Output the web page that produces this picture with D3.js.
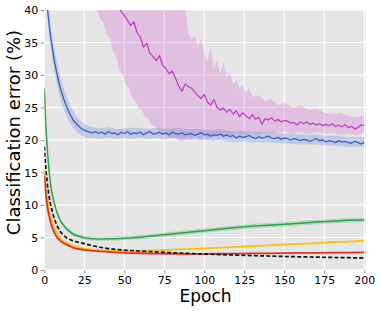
<!DOCTYPE html>
<html>
<head>
<meta charset="utf-8">
<script src="https://cdn.jsdelivr.net/npm/d3@7"></script>
<style>
  body { margin: 0; background: #fff; }
  text { font-family: "DejaVu Sans", sans-serif; }
</style>
</head>
<body>
<div id="chart"></div>
<script>
'use strict';

// ---- data ----
var xTicks = [0, 25, 50, 75, 100, 125, 150, 175, 200];
var yTicks = [0, 5, 10, 15, 20, 25, 30, 35, 40];

var blueEpochs = [0, 1, 2, 3, 4, 5, 6, 7, 8, 9, 10, 12, 14, 16, 18, 20, 22, 24, 26, 28,
  30, 32, 34, 36, 38, 40, 42, 44, 46, 48, 50, 52, 54, 56, 58, 60, 62, 64, 66, 68, 70, 72, 74, 76, 78,
  80, 82, 84, 86, 88, 90, 92, 94, 96, 98, 100, 102, 104, 106, 108, 110, 112, 114, 116, 118, 120,
  122, 124, 126, 128, 130, 132, 134, 136, 138, 140, 142, 144, 146, 148, 150, 152, 154, 156, 158,
  160, 162, 164, 166, 168, 170, 172, 174, 176, 178, 180, 182, 184, 186, 188, 190, 192, 194, 196, 198, 200];
var blueMean = [47, 43.5, 40.2, 37.8, 35.8, 34.2, 32.6, 31.3, 30.1, 29.0, 28.0, 26.4, 25.1, 24.0, 23.1, 22.5, 22.0, 21.6, 21.4, 21.2,
  21.1, 21.3, 21.0, 21.2, 20.9, 21.3, 21.0, 21.1, 20.8, 21.2, 21.0, 21.3, 20.9, 21.1, 21.0, 21.2, 20.8, 21.1, 21.3, 20.9, 21.0, 21.2, 20.9, 21.1, 20.8,
  21.2, 21.0, 20.9, 21.1, 20.8, 20.9, 21.0, 20.7, 20.9, 21.1, 20.8, 20.9, 20.6, 20.8, 20.7, 20.9, 20.6, 20.8, 20.5, 20.7, 20.3,
  20.6, 20.4, 20.5, 20.7, 20.4, 20.2, 20.5, 20.3, 20.4, 20.6, 20.3, 20.2, 20.4, 20.1, 20.3, 20.2, 20.0, 20.2, 20.1,
  19.9, 20.1, 20.0, 19.8, 20.0, 20.2, 19.9, 20.0, 19.7, 19.9, 19.8, 19.6, 19.9, 19.7, 19.8, 19.6, 19.5, 19.8, 19.6, 19.4, 19.6];
var blueBandEpochs = [0, 2, 4, 6, 8, 10, 12, 14, 16, 18, 20, 22, 24, 26, 28, 30, 35, 40, 45, 50, 55, 60, 65, 70, 75, 80, 85, 90,
  95, 100, 105, 110, 115, 120, 125, 130, 135, 140, 145, 150, 155, 160, 165, 170, 175, 180, 185, 190, 195, 200];
var blueLower = [45.2, 38.5, 34.1, 30.9, 28.4, 26.4, 24.8, 23.6, 22.6, 21.8, 21.3, 20.9, 20.6, 20.4, 20.3, 20.3, 20.2, 20.4, 20.2, 20.3, 20.2, 20.4, 20.2, 20.3, 20.1, 20.3, 20.2, 20.0,
  20.1, 20.0, 19.9, 20.0, 19.7, 19.7, 19.8, 19.6, 19.7, 19.6, 19.5, 19.5, 19.4, 19.3, 19.3, 19.3, 19.1, 19.1, 19.1, 18.9, 19.0, 18.9];
var blueUpper = [48.8, 41.9, 37.5, 34.3, 31.8, 29.6, 28.0, 26.6, 25.4, 24.4, 23.7, 23.1, 22.6, 22.4, 22.1, 22.0, 21.8, 22.0, 21.7, 21.8, 21.9, 21.9, 21.7, 21.9, 21.7, 21.8, 21.8, 21.6,
  21.7, 21.6, 21.5, 21.7, 21.4, 21.3, 21.4, 21.2, 21.3, 21.2, 21.1, 21.0, 21.0, 20.9, 20.8, 20.9, 20.6, 20.7, 20.6, 20.4, 20.5, 20.4];

var magentaEpochs = [40, 42, 44, 46, 48, 50, 52, 54, 56, 58, 60, 62, 64, 66, 68, 70, 72, 74, 76, 78,
  80, 82, 84, 86, 88, 90, 92, 94, 96, 98, 100, 102, 104, 106, 108, 110, 112, 114, 116, 118, 120,
  122, 124, 126, 128, 130, 132, 134, 136, 138, 140, 142, 144, 146, 148, 150, 152, 154, 156, 158,
  160, 162, 164, 166, 168, 170, 172, 174, 176, 178, 180, 182, 184, 186, 188, 190, 192, 194, 196, 198, 200];
var magentaMean = [43.5, 42.4, 41.5, 40.5, 39.8, 39.2, 38.4, 37.6, 38.2, 36.5, 35.8, 34.3, 34.9, 33.4, 32.8, 32.2, 33.0, 31.5, 31.0, 30.2,
  30.6, 29.5, 28.3, 27.5, 28.6, 28.2, 28.0, 27.4, 26.8, 26.4, 27.0, 25.8, 25.4, 26.2, 25.0, 24.6, 24.9, 24.3, 24.7, 24.0, 24.5,
  23.6, 24.2, 23.7, 23.3, 23.9, 23.2, 23.5, 22.4, 23.3, 23.1, 23.4, 22.9, 23.2, 22.8, 23.0, 22.9, 22.6, 22.7, 22.3,
  22.8, 22.5, 22.8, 22.4, 22.6, 22.3, 22.5, 22.2, 22.4, 22.2, 22.5, 22.1, 22.3, 22.0, 22.4, 21.9, 22.1, 21.7, 21.9, 22.3, 22.2];
var magentaBandEpochs = [30, 33, 35, 37, 39, 41, 43, 45, 47, 49, 51, 53, 55, 57, 59, 61, 63, 65, 67, 69, 72, 75, 78, 82, 86,
  88, 90, 92, 94, 96, 98, 100, 102, 104, 106, 108, 110, 112, 114, 116, 118, 120, 122, 124, 126, 128, 130,
  134, 138, 142, 146, 150, 155, 160, 165, 170, 175, 180, 185, 190, 195, 200];
var magentaLower = [42, 40.0, 38.6, 38.0, 36.2, 35.8, 33.6, 32.8, 30.6, 30.2, 28.4, 27.9, 26.3, 26.0, 24.9, 24.6, 23.5, 23.4, 22.2, 22.1, 21.4, 21.1, 20.4, 20.3, 19.7,
  20.2, 20.5, 20.0, 20.8, 20.3, 19.9, 20.6, 20.1, 20.7, 20.3, 20.5, 20.9, 20.4, 20.8, 20.5, 20.9, 21.0, 20.6, 20.9, 20.7, 21.0, 21.1,
  20.8, 21.2, 21.0, 21.1, 21.3, 21.0, 21.2, 20.9, 21.2, 21.0, 21.1, 20.8, 21.0, 20.7, 21.1];
var magentaUpper = [45, 45, 45, 45, 45, 45, 45, 45, 45, 45, 45, 45, 45, 45, 45, 45, 45, 45, 45, 45, 45, 45, 45, 45, 45,
  40.5, 36.5, 35.4, 36.2, 34.5, 35.6, 33.4, 32.2, 34.3, 31.0, 32.4, 30.1, 32.0, 29.6, 30.3, 28.5, 29.2, 27.8, 28.4, 27.3, 28.0, 26.6,
  26.9, 26.0, 26.3, 25.4, 25.7, 25.0, 25.3, 24.6, 24.8, 24.2, 24.0, 24.2, 23.7, 23.5, 23.8];

var smoothEpochs = [0, 1, 2, 3, 4, 5, 6, 7, 8, 10, 12, 14, 16, 18, 20, 25, 30, 35, 40, 45, 50, 55, 60, 70, 80, 90,
  100, 110, 120, 130, 140, 150, 160, 170, 180, 190, 200];
var greenMean = [28.0, 22.0, 18.2, 15.2, 13.0, 11.6, 10.5, 9.6, 8.8, 7.6, 6.9, 6.3, 5.9, 5.5, 5.3, 4.95, 4.8, 4.75, 4.8, 4.8, 4.9, 4.95, 5.05, 5.3, 5.55, 5.8,
  6.05, 6.3, 6.55, 6.75, 6.9, 7.05, 7.2, 7.4, 7.5, 7.65, 7.7];
var greenStd = [0.6, 0.5, 0.45, 0.4, 0.35, 0.3, 0.3, 0.3, 0.3, 0.3, 0.3, 0.3, 0.3, 0.3, 0.3, 0.3, 0.3, 0.3, 0.3, 0.3, 0.3, 0.3, 0.32, 0.32, 0.32, 0.35,
  0.35, 0.35, 0.35, 0.35, 0.35, 0.35, 0.35, 0.35, 0.35, 0.35, 0.35];
var yellowMean = [15.5, 12.5, 10.6, 9.2, 8.1, 7.3, 6.6, 6.0, 5.6, 4.9, 4.45, 4.15, 3.9, 3.7, 3.55, 3.3, 3.15, 3.05, 3.0, 2.95, 2.93, 2.93, 2.95, 3.02, 3.12, 3.22,
  3.33, 3.45, 3.57, 3.68, 3.8, 3.92, 4.03, 4.15, 4.27, 4.38, 4.5];
var redMean = [14.5, 11.5, 9.5, 8.3, 7.3, 6.5, 5.9, 5.4, 5.0, 4.5, 4.15, 3.9, 3.65, 3.45, 3.3, 3.1, 2.95, 2.85, 2.78, 2.7, 2.65, 2.61, 2.58, 2.53, 2.5, 2.48,
  2.48, 2.5, 2.52, 2.55, 2.57, 2.6, 2.62, 2.64, 2.66, 2.68, 2.7];
var blackMean = [19.0, 15.5, 13.0, 11.3, 10.0, 9.0, 8.1, 7.4, 6.8, 5.9, 5.3, 4.95, 4.7, 4.5, 4.35, 4.05, 3.75, 3.5, 3.3, 3.15, 3.05, 2.98, 2.92, 2.78, 2.65, 2.55,
  2.45, 2.37, 2.29, 2.22, 2.15, 2.08, 2.03, 1.98, 1.93, 1.89, 1.85];

// ---- chart ----
var W = 381, H = 311;
var svg = d3.select("#chart").append("svg")
  .attr("width", W).attr("height", H);

var x = d3.scaleLinear().domain([0, 201]).range([44.3, 365.9]);
var y = d3.scaleLinear().domain([0, 40]).range([270, 10]);

svg.append("defs").append("clipPath").attr("id", "plot-clip")
  .append("rect")
  .attr("x", x(0)).attr("y", y(40))
  .attr("width", x(201) - x(0)).attr("height", y(0) - y(40));

svg.append("rect")
  .attr("x", x(0)).attr("y", y(40))
  .attr("width", x(201) - x(0)).attr("height", y(0) - y(40))
  .attr("fill", "#e5e5e5");

var grid = svg.append("g");
grid.selectAll(".gx").data(xTicks).enter().append("line")
  .attr("x1", function(d) { return x(d); }).attr("x2", function(d) { return x(d); })
  .attr("y1", y(0)).attr("y2", y(40))
  .attr("stroke", "#fff").attr("stroke-width", 1.1);
grid.selectAll(".gy").data(yTicks).enter().append("line")
  .attr("x1", x(0)).attr("x2", x(201))
  .attr("y1", function(d) { return y(d); }).attr("y2", function(d) { return y(d); })
  .attr("stroke", "#fff").attr("stroke-width", 1.1);

var xAxis = svg.append("g").attr("transform", "translate(0," + y(0) + ")")
  .call(d3.axisBottom(x).tickValues(xTicks).tickSize(3.5).tickPadding(2.5));
var yAxis = svg.append("g").attr("transform", "translate(" + x(0) + ",0)")
  .call(d3.axisLeft(y).tickValues(yTicks).tickSize(3.5).tickPadding(2.5));
[xAxis, yAxis].forEach(function(a) {
  a.select(".domain").remove();
  a.selectAll(".tick line").attr("stroke", "#777").attr("stroke-width", 0.8);
  a.selectAll(".tick text").attr("fill", "#000").style("font-size", "11px")
    .style("font-family", "DejaVu Sans");
});

var plot = svg.append("g").attr("clip-path", "url(#plot-clip)");

function zip(xs, ys) {
  return xs.map(function(e, i) { return [e, ys[i]]; });
}
function band(xs, lo, hi) {
  return xs.map(function(e, i) { return [e, lo[i], hi[i]]; });
}

var line = d3.line().x(function(d) { return x(d[0]); }).y(function(d) { return y(d[1]); });
var area = d3.area()
  .x(function(d) { return x(d[0]); })
  .y0(function(d) { return y(d[1]); })
  .y1(function(d) { return y(d[2]); });

// bands
plot.append("path").datum(band(magentaBandEpochs, magentaLower, magentaUpper))
  .attr("d", area).attr("fill", "#cc44cc").attr("fill-opacity", 0.22);
plot.append("path").datum(band(blueBandEpochs, blueLower, blueUpper))
  .attr("d", area).attr("fill", "#4a74d8").attr("fill-opacity", 0.25);
plot.append("path").datum(smoothEpochs.map(function(e, i) {
    return [e, greenMean[i] - greenStd[i], greenMean[i] + greenStd[i]];
  }))
  .attr("d", area).attr("fill", "#2eaa4c").attr("fill-opacity", 0.25);

// lines
var series = [
  { name: "magenta", xs: magentaEpochs, ys: magentaMean, color: "#c63cc6", w: 1.3 },
  { name: "blue", xs: blueEpochs, ys: blueMean, color: "#3462cc", w: 1.3 },
  { name: "green", xs: smoothEpochs, ys: greenMean, color: "#26a845", w: 1.5 },
  { name: "yellow", xs: smoothEpochs, ys: yellowMean, color: "#ffc000", w: 1.8 },
  { name: "red", xs: smoothEpochs, ys: redMean, color: "#ec2a28", w: 1.8 },
  { name: "black", xs: smoothEpochs, ys: blackMean, color: "#111", w: 1.7, dash: "4,2.2" }
];
series.forEach(function(s) {
  plot.append("path").datum(zip(s.xs, s.ys))
    .attr("d", line)
    .attr("fill", "none")
    .attr("stroke", s.color)
    .attr("stroke-width", s.w)
    .attr("stroke-linejoin", "round")
    .attr("stroke-dasharray", s.dash || null);
});

// axis labels
svg.append("text")
  .attr("x", 205.5).attr("y", 301.5)
  .attr("text-anchor", "middle")
  .style("font-size", "17px")
  .text("Epoch");
svg.append("text")
  .attr("transform", "translate(19.5,132.5) rotate(-90)")
  .attr("text-anchor", "middle")
  .style("font-size", "18px")
  .text("Classification error (%)");
</script>
</body>
</html>
